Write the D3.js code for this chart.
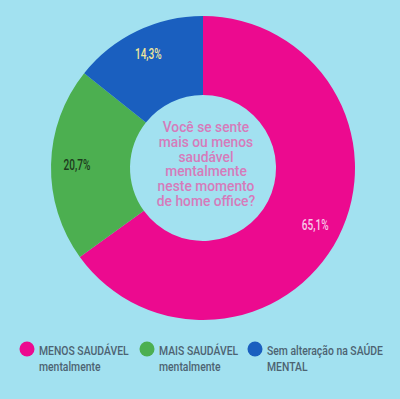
<!DOCTYPE html>
<html>
<head>
<meta charset="UTF-8">
<script src="https://cdn.jsdelivr.net/npm/d3@7"></script>
<style>
  body { margin: 0; background: #a2e1f0; }
  text { font-family: "Roboto", "Noto Sans", sans-serif; }
</style>
</head>
<body>
<div id="chart"></div>
<script>
// data
var categories = ["MENOS SAUDÁVEL mentalmente", "MAIS SAUDÁVEL mentalmente", "Sem alteração na SAÚDE MENTAL"];
var values = [65.1, 20.7, 14.3];
var valueLabels = ["65,1%", "20,7%", "14,3%"];
var legendLines = [["MENOS SAUDÁVEL", "mentalmente"], ["MAIS SAUDÁVEL", "mentalmente"], ["Sem alteração na SAÚDE", "MENTAL"]];
var centerLines = ["Você se sente", "mais ou menos", "saudável", "mentalmente", "neste momento", "de home office?"];

var colors = ["#ec0a8f", "#4caf50", "#1a5fbf"];
var labelColors = ["#f7c9e8", "#1d3a1c", "#f1e79a"];

var width = 400, height = 399;
var cx = 203, cy = 168, outerR = 152, innerR = 73;
var squeeze = 0.72; // the original font is a condensed one

var svg = d3.select("#chart").append("svg")
    .attr("width", width)
    .attr("height", height);

var g = svg.append("g").attr("transform", "translate(" + cx + "," + cy + ")");

var pie = d3.pie().sort(null).value(function (d) { return d; });
var arc = d3.arc().innerRadius(innerR).outerRadius(outerR);
var labelArc = d3.arc().innerRadius(126).outerRadius(126);

var arcs = pie(values);

g.selectAll("path")
    .data(arcs)
    .enter()
    .append("path")
    .attr("d", arc)
    .attr("fill", function (d, i) { return colors[i]; });

g.selectAll(".val")
    .data(arcs)
    .enter()
    .append("text")
    .attr("class", "val")
    .attr("transform", function (d) { return "translate(" + labelArc.centroid(d) + ") scale(" + squeeze + ",1)"; })
    .attr("text-anchor", "middle")
    .attr("dy", "0.35em")
    .style("font-size", "14px")
    .style("font-weight", "500")
    .attr("fill", function (d, i) { return labelColors[i]; })
    .text(function (d, i) { return valueLabels[i]; });

// question in the middle
svg.append("text")
    .attr("transform", "translate(206,0) scale(0.92,1)")
    .attr("text-anchor", "middle")
    .style("font-size", "15px")
    .style("font-weight", "500")
    .attr("fill", "#d67bbb")
    .selectAll("tspan")
    .data(centerLines)
    .enter()
    .append("tspan")
    .attr("x", 0)
    .attr("y", function (d, i) { return 132 + i * 14.8; })
    .text(function (d) { return d; });

// legend
var legendX = [27, 147, 255];
var leg = svg.selectAll(".leg")
    .data(categories)
    .enter()
    .append("g")
    .attr("class", "leg")
    .attr("transform", function (d, i) { return "translate(" + legendX[i] + ",349)"; });

leg.append("circle")
    .attr("r", 7.5)
    .attr("fill", function (d, i) { return colors[i]; });

leg.append("text")
    .attr("transform", "translate(12,0) scale(0.8,1)")
    .attr("fill", "#4d6372")
    .style("font-size", "13px")
    .style("font-weight", "500")
    .selectAll("tspan")
    .data(function (d, i) { return legendLines[i]; })
    .enter()
    .append("tspan")
    .attr("x", 0)
    .attr("y", function (d, i) { return 6 + i * 16.5; })
    .text(function (d) { return d; });
</script>
</body>
</html>
